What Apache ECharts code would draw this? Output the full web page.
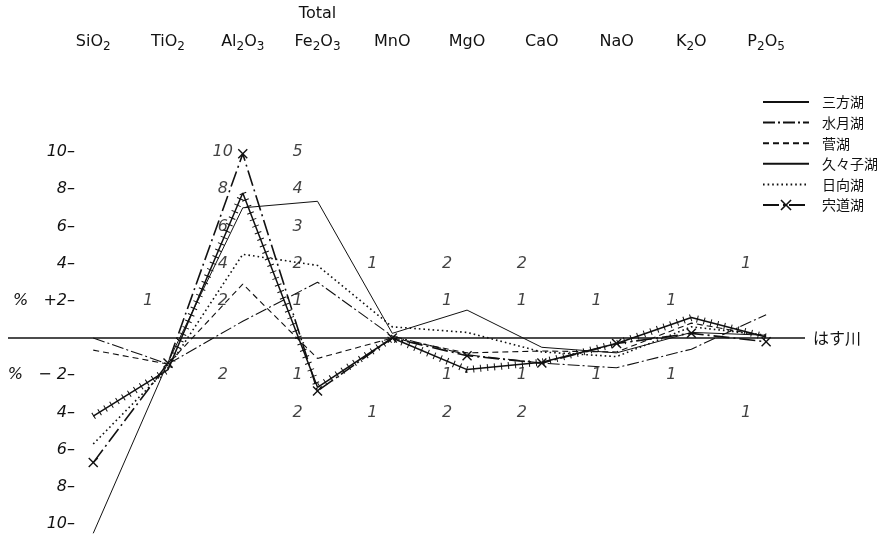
<!DOCTYPE html>
<html>
<head>
<meta charset="utf-8">
<script src="https://cdn.jsdelivr.net/npm/echarts@6/dist/echarts.min.js"></script>
<style>
  html, body { margin: 0; padding: 0; background: #fff; }
  #main { width: 892px; height: 538px; }
</style>
</head>
<body>
<div id="main"></div>
<script>
// oxide columns, left to right
var categories = ['SiO2', 'TiO2', 'Al2O3', 'Total Fe2O3', 'MnO', 'MgO', 'CaO', 'NaO', 'K2O', 'P2O5'];
var categoryLabels = ['SiO{s|2}', 'TiO{s|2}', 'Al{s|2}O{s|3}', 'Total\nFe{s|2}O{s|3}', 'MnO', 'MgO', 'CaO', 'NaO', 'K{s|2}O', 'P{s|2}O{s|5}'];

// difference from はす川, in units of the left (SiO2) axis
var mikata   = [-10.5, -1.3, 7.0, 7.35, 0.25, 1.5, -0.5, -0.8, 0.3, 0.15];
var suigetsu = [0.0, -1.4, 0.9, 3.0, 0.1, -0.9, -1.35, -1.6, -0.6, 1.25];
var suga     = [-0.65, -1.4, 2.9, -1.1, 0.0, -0.8, -0.7, -0.75, 0.8, 0.1];
var kugushi  = [-4.2, -1.7, 7.8, -2.65, 0.0, -1.7, -1.3, -0.3, 1.1, 0.05];
var hyuga    = [-5.7, -1.6, 4.5, 3.9, 0.6, 0.3, -0.75, -1.0, 0.6, 0.15];
var shinji   = [-6.7, -1.35, 9.9, -2.85, 0.0, -0.95, -1.35, -0.3, 0.25, -0.2];

// left axis ticks
var yTicks = [10, 8, 6, 4, 2, -2, -4, -6, -8, -10];
var yTickLabels = ['10–', '8–', '6–', '4–', '%   +2–', '%   − 2–', '4–', '6–', '8–', '10–'];

// per-column scale marks: [axis position, text]
var columnTicks = [
  [],
  [[2, '1']],
  [[10, '10'], [8, '8'], [6, '6'], [4, '4'], [2, '2'], [-2, '2']],
  [[10, '5'], [8, '4'], [6, '3'], [4, '2'], [2, '1'], [-2, '1'], [-4, '2']],
  [[4, '1'], [-4, '1']],
  [[4, '2'], [2, '1'], [-2, '1'], [-4, '2']],
  [[4, '2'], [2, '1'], [-2, '1'], [-4, '2']],
  [[2, '1'], [-2, '1']],
  [[2, '1'], [-2, '1']],
  [[4, '1'], [-4, '1']]
];

var lakeNames = ['三方湖', '水月湖', '菅湖', '久々子湖', '日向湖', '宍道湖'];
var baseName = 'はす川';
var ink = '#111';

function pts(arr) {
  return arr.map(function (v, i) { return [i, v]; });
}

var tickData = [];
columnTicks.forEach(function (list, i) {
  list.forEach(function (t) { tickData.push({ value: [i, t[0]], text: t[1] }); });
});

var chartDom = document.getElementById('main');
var myChart = echarts.init(chartDom, null, { renderer: 'canvas' });

function lake(name, data, lineStyle, extra) {
  var s = {
    name: name,
    type: 'line',
    data: pts(data),
    showSymbol: false,
    symbol: 'none',
    clip: false,
    color: ink,
    lineStyle: Object.assign({ color: ink, width: 1 }, lineStyle),
    z: 3
  };
  return Object.assign(s, extra || {});
}

var xMark = 'path://M0,1L1,0L5,4L9,0L10,1L6,5L10,9L9,10L5,6L1,10L0,9L4,5Z';

var option = {
  animation: false,
  backgroundColor: '#fff',
  textStyle: { fontFamily: 'DejaVu Sans', color: ink },
  grid: { left: 8, right: 87, top: 152, bottom: 14, outerBoundsMode: 'none' },
  legend: {
    data: lakeNames.map(function (n) {
      return n === '宍道湖' ? { name: n, itemStyle: { opacity: 1 } } : n;
    }),
    orient: 'vertical',
    left: 757,
    top: 90,
    itemWidth: 46,
    itemHeight: 14,
    itemGap: 6.6,
    itemStyle: { opacity: 0 },
    textStyle: { fontFamily: 'Noto Sans CJK JP', fontSize: 14, color: ink, padding: [0, 0, 0, 8] }
  },
  xAxis: {
    type: 'value',
    position: 'top',
    min: -1.14,
    max: 9.52,
    splitLine: { show: false },
    axisLine: { show: false },
    axisTick: { show: false },
    axisLabel: {
      customValues: [0, 1, 2, 3, 4, 5, 6, 7, 8, 9],
      margin: 96,
      color: ink,
      fontSize: 16,
      lineHeight: 28,
      formatter: function (v) { return categoryLabels[Math.round(v)]; },
      rich: {
        s: { fontSize: 12, padding: [9, 0, 0, 0] }
      }
    }
  },
  yAxis: {
    type: 'value',
    min: -10,
    max: 10,
    offset: -67,
    splitLine: { show: false },
    axisLine: { show: false },
    axisTick: { show: false },
    axisLabel: {
      customValues: yTicks,
      margin: 0,
      color: ink,
      fontSize: 16,
      fontStyle: 'italic',
      formatter: function (v) { return yTickLabels[yTicks.indexOf(v)]; }
    }
  },
  series: [
    {
      name: baseName,
      type: 'line',
      data: [[-1.14, 0], [9.52, 0]],
      symbol: 'none',
      clip: false,
      lineStyle: { color: ink, width: 1.5 },
      endLabel: {
        show: true,
        formatter: baseName,
        distance: 8,
        fontFamily: 'Noto Sans CJK JP',
        fontSize: 16,
        color: ink
      },
      z: 2
    },
    lake('三方湖', mikata, { width: 1 }),
    lake('水月湖', suigetsu, { width: 1.1, type: [12, 3, 2, 3] }),
    lake('菅湖', suga, { width: 1.1, type: [6, 4] }),
    lake('久々子湖', kugushi, { width: 1.5 }),
    lake('久々子湖', kugushi, { width: 7, type: [1, 6], cap: 'butt' }),
    lake('日向湖', hyuga, { width: 1.6, type: [1.6, 3] }),
    lake('宍道湖', shinji, { width: 1.6, type: [16, 4, 2, 4] }, {
      showSymbol: true,
      symbol: xMark,
      symbolSize: 10,
      itemStyle: { color: ink }
    }),
    {
      name: 'scale',
      type: 'scatter',
      data: tickData,
      symbolSize: 0,
      silent: true,
      label: {
        show: true,
        position: 'inside',
        offset: [-20, 0],
        fontSize: 16,
        fontStyle: 'italic',
        color: ink,
        formatter: function (p) { return p.data.text; }
      },
      z: 1
    }
  ]
};

option && myChart.setOption(option);
</script>
</body>
</html>
